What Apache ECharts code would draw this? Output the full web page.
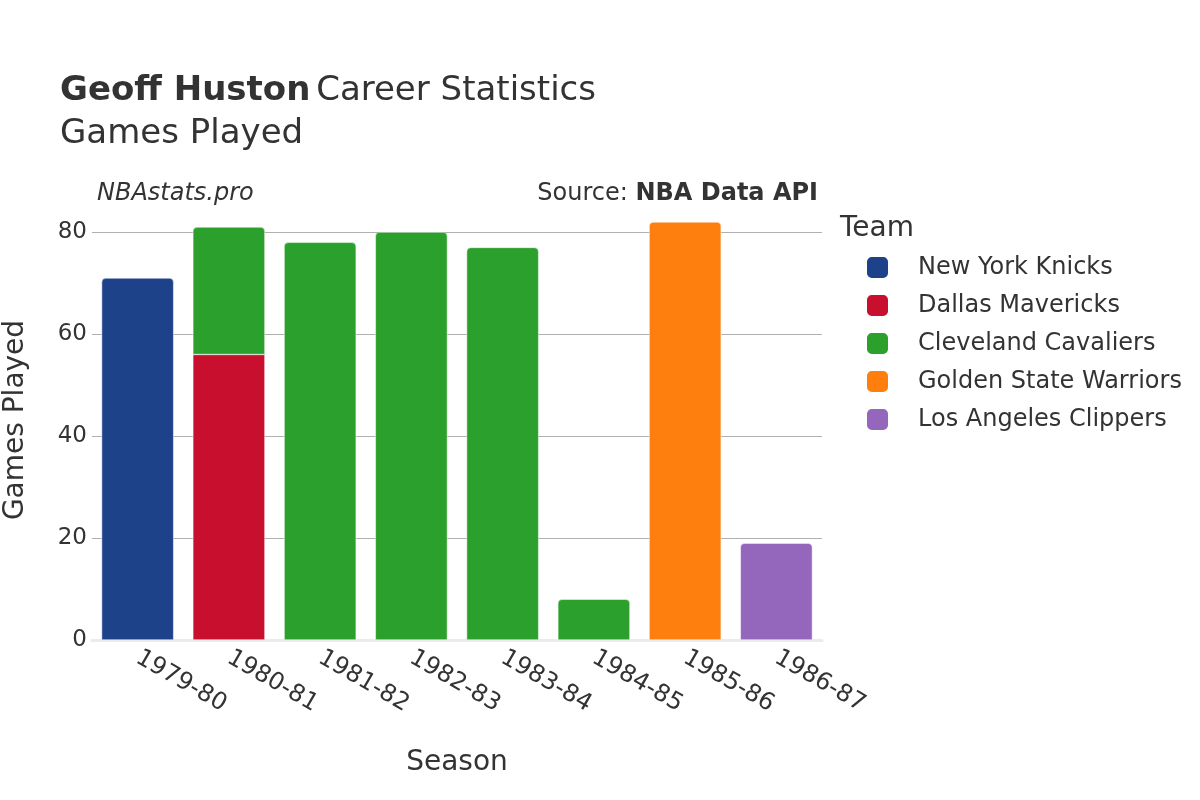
<!DOCTYPE html>
<html>
<head>
<meta charset="utf-8">
<script src="https://cdn.jsdelivr.net/npm/echarts@6/dist/echarts.min.js"></script>
<style>
  html, body { margin: 0; padding: 0; background: #fff; }
  #main { width: 1200px; height: 800px; }
</style>
</head>
<body>
<div id="main"></div>
<script>
// seasons on the x axis
const seasons = ['1979-80', '1980-81', '1981-82', '1982-83', '1983-84', '1984-85', '1985-86', '1986-87'];
// games played per team, '-' where he did not play for them
const knicks = [71, '-', '-', '-', '-', '-', '-', '-'];
const mavericks = ['-', 56, '-', '-', '-', '-', '-', '-'];
const cavaliers = ['-', 25, 78, 80, 77, 8, '-', '-'];
const warriors = ['-', '-', '-', '-', '-', '-', 82, '-'];
const clippers = ['-', '-', '-', '-', '-', '-', '-', 19];
const teams = ['New York Knicks', 'Dallas Mavericks', 'Cleveland Cavaliers', 'Golden State Warriors', 'Los Angeles Clippers'];
const teamColors = ['#1d428a', '#c8102e', '#2ca02c', '#ff7f0e', '#9467bd'];
const yTicks = [0, 20, 40, 60, 80];

const font = 'DejaVu Sans';
const chart = echarts.init(document.getElementById('main'));

let makeSeries = function (name, data, color, radius) {
    return {
        name: name,
        type: 'bar',
        stack: 'games',
        data: data,
        barCategoryGap: '21%',
        itemStyle: {
            color: color,
            borderRadius: radius,
            borderColor: '#fff',
            borderWidth: 0.5
        }
    };
};

const option = {
    animation: false,
    textStyle: { fontFamily: font },
    title: [
        {
            left: 60,
            top: 70,
            padding: 0,
            text: '{b|Geoff Huston} {n|Career Statistics}\n{n|Games Played}',
            textStyle: {
                fontWeight: 'normal',
                rich: {
                    b: { fontFamily: font, fontSize: 34, fontWeight: 'bold', color: '#333', lineHeight: 43 },
                    n: { fontFamily: font, fontSize: 34, fontWeight: 'normal', color: '#333', lineHeight: 43 }
                }
            }
        },
        {
            left: 97,
            top: 182,
            padding: 0,
            text: 'NBAstats.pro',
            textStyle: { fontFamily: font, fontSize: 24, fontStyle: 'italic', fontWeight: 'normal', color: '#333' }
        },
        {
            right: 382,
            top: 182,
            padding: 0,
            text: '{n|Source: }{b|NBA Data API}',
            textStyle: {
                fontWeight: 'normal',
                rich: {
                    n: { fontFamily: font, fontSize: 24, fontWeight: 'normal', color: '#333' },
                    b: { fontFamily: font, fontSize: 24, fontWeight: 'bold', color: '#333' }
                }
            }
        },
        {
            left: 840,
            top: 215,
            padding: 0,
            text: 'Team',
            textStyle: { fontFamily: font, fontSize: 28, fontWeight: 'normal', color: '#333' }
        }
    ],
    legend: {
        orient: 'vertical',
        left: 865,
        top: 255,
        padding: 0,
        data: teams,
        icon: 'roundRect',
        itemWidth: 23,
        itemHeight: 23,
        itemGap: 13,
        textStyle: { fontFamily: font, fontSize: 24, lineHeight: 24, color: '#333', padding: [0, 0, 0, 24] }
    },
    grid: { left: 92, right: 378, top: 200, bottom: 160, containLabel: false, outerBoundsMode: 'none' },
    xAxis: {
        type: 'category',
        data: seasons,
        name: 'Season',
        nameLocation: 'middle',
        nameGap: 109,
        nameTextStyle: { fontFamily: font, fontSize: 28, color: '#333' },
        axisLine: { show: true, lineStyle: { color: '#ebebeb', width: 3 } },
        axisTick: { show: false },
        axisLabel: { rotate: -30, fontFamily: font, fontSize: 24, color: '#333', margin: 16 }
    },
    yAxis: {
        type: 'value',
        min: 0,
        max: 86.3,
        interval: 20,
        name: 'Games Played',
        nameLocation: 'middle',
        nameGap: 62,
        nameTextStyle: { fontFamily: font, fontSize: 28, color: '#333' },
        axisLine: { show: false },
        axisTick: { show: false },
        axisLabel: {
            fontFamily: font, fontSize: 23, color: '#333', margin: 5,
            showMaxLabel: false,
            formatter: function (v) { return yTicks.indexOf(v) >= 0 ? String(v) : ''; }
        },
        splitLine: { show: true, showMinLine: false, showMaxLine: false, lineStyle: { color: '#b0b0b0', width: 1 } }
    },
    series: [
        makeSeries(teams[0], knicks, teamColors[0], [4, 4, 0, 0]),
        makeSeries(teams[1], mavericks, teamColors[1], 0),
        makeSeries(teams[2], cavaliers, teamColors[2], [4, 4, 0, 0]),
        makeSeries(teams[3], warriors, teamColors[3], [4, 4, 0, 0]),
        makeSeries(teams[4], clippers, teamColors[4], [4, 4, 0, 0])
    ]
};
chart.setOption(option);
</script>
</body>
</html>
